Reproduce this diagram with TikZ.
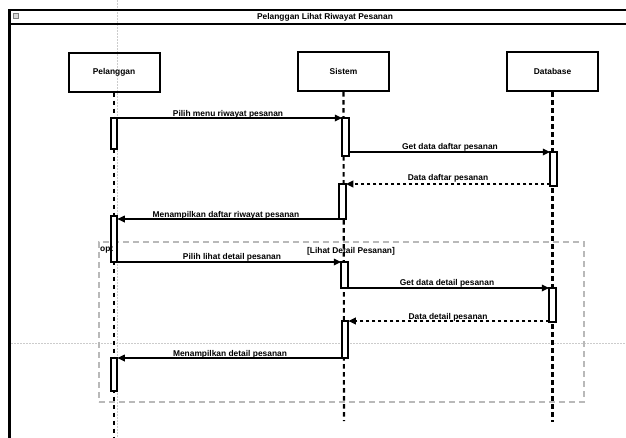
\documentclass[tikz,border=0pt]{standalone}
\usepackage{fontspec}
\setmainfont{Liberation Sans}
\usetikzlibrary{arrows.meta}
\begin{document}
\begin{tikzpicture}[x=1pt,y=-1pt,
  lbl/.style={font=\bfseries\fontsize{8.4}{9}\selectfont, inner sep=0pt},
  head/.style={draw, line width=2pt, minimum width=91pt, minimum height=39pt, inner sep=0pt, lbl},
  act/.style={draw, fill=white, line width=1.7pt, minimum width=6.5pt, inner sep=0pt, outer sep=0pt, anchor=north},
  life/.style={line width=2.1pt, dash pattern=on 4.5pt off 3.5pt},
  msg/.style={line width=1.6pt, -{Triangle[length=7.5pt,width=6.5pt]}},
  ret/.style={line width=1.9pt, dash pattern=on 3pt off 3pt, -{Triangle[length=7.5pt,width=6.5pt]}},
  guide/.style={gray!40, line width=0.7pt, dash pattern=on 1.5pt off 1.5pt},
  optframe/.style={draw=gray!55, line width=1.5pt, dash pattern=on 6pt off 4pt, inner sep=0pt},
  framestyle/.style={line width=2.1pt},
]
\useasboundingbox (0,0) rectangle (626,437);
\clip (0,0) rectangle (626,437);

% editor guide lines
\coordinate (gv1) at (117,0);
\coordinate (gv2) at (117,437);
\coordinate (gh1) at (8,343);
\coordinate (gh2) at (626,343);
\draw[guide] (gv1) -- (gv2);
\draw[guide] (gh1) -- (gh2);

% outer sequence frame with title bar
\coordinate (fr) at (650,10);
\coordinate (fl) at (9.5,10);
\coordinate (fb) at (9.5,450);
\coordinate (tl) at (9.5,24);
\coordinate (tr) at (650,24);
\draw[framestyle] (fr) -- (fl) -- (fb);
\draw[framestyle] (tl) -- (tr);
\node[draw=gray, fill=gray!30, line width=0.4pt, minimum size=5pt, inner sep=0pt] (icon) at (15.5,16) {};
\node[lbl] (title) at (325,17) {Pelanggan Lihat Riwayat Pesanan};

% optional fragment
\node[optframe, minimum width=485pt, minimum height=160pt, anchor=north west] (opt) at (98,241) {};
\node[lbl, anchor=base] (guard) at (351,253) {[Lihat Detail Pesanan]};

% lifeline heads
\node[head] (pel) at (114,72) {Pelanggan};
\node[head] (sis) at (343.5,71.5) {Sistem};
\node[head] (db) at (552.5,71.5) {Database};

% lifelines
\coordinate (pelend) at (114,437);
\coordinate (sisend) at (344,421);
\coordinate (dbend) at (552.5,422);
\draw[life] (pel.south) -- (pelend);
\draw[life] (sis.south) -- (sisend);
\draw[life] (db.south) -- (dbend);

% activation bars
\node[act, minimum height=31pt] (p1) at (114,118) {};
\node[act, minimum height=38pt] (s1) at (345.5,118) {};
\node[act, minimum height=34pt] (d1) at (553.5,152) {};
\node[act, minimum height=35pt] (s2) at (342.5,184) {};
\node[act, minimum height=46pt] (p2) at (114,216) {};
\node[act, minimum height=26pt] (s3) at (344.5,262) {};
\node[act, minimum height=34pt] (d2) at (552.5,288) {};
\node[act, minimum height=37pt] (s4) at (345,321) {};
\node[act, minimum height=33pt] (p3) at (114,358) {};

% fragment operator, drawn over the bar
\node[lbl, anchor=base west] (optlbl) at (100,251) {opt};

% messages
\draw[msg] (p1.north east) -- (s1.north west);
\draw[msg] (d1.north west -| s1.east) -- (d1.north west);
\draw[ret] (s2.north east -| d1.west) -- (s2.north east);
\draw[msg] (s2.south west) -- (s2.south west -| p2.east);
\draw[msg] (p2.south east) -- (s3.north west);
\draw[msg] (s3.south east) -- (d2.north west);
\draw[ret] (s4.north east -| d2.west) -- (s4.north east);
\draw[msg] (s4.south west) -- (p3.north east);

% message labels
\node[lbl, anchor=base] (m1) at (228,116) {Pilih menu riwayat pesanan};
\node[lbl, anchor=base] (m2) at (450,149) {Get data daftar pesanan};
\node[lbl, anchor=base] (m3) at (448,180) {Data daftar pesanan};
\node[lbl, anchor=base] (m4) at (226,217) {Menampilkan daftar riwayat pesanan};
\node[lbl, anchor=base] (m5) at (232,259) {Pilih lihat detail pesanan};
\node[lbl, anchor=base] (m6) at (447,285) {Get data detail pesanan};
\node[lbl, anchor=base] (m7) at (448,319) {Data detail pesanan};
\node[lbl, anchor=base] (m8) at (230,356) {Menampilkan detail pesanan};
\end{tikzpicture}
\end{document}
